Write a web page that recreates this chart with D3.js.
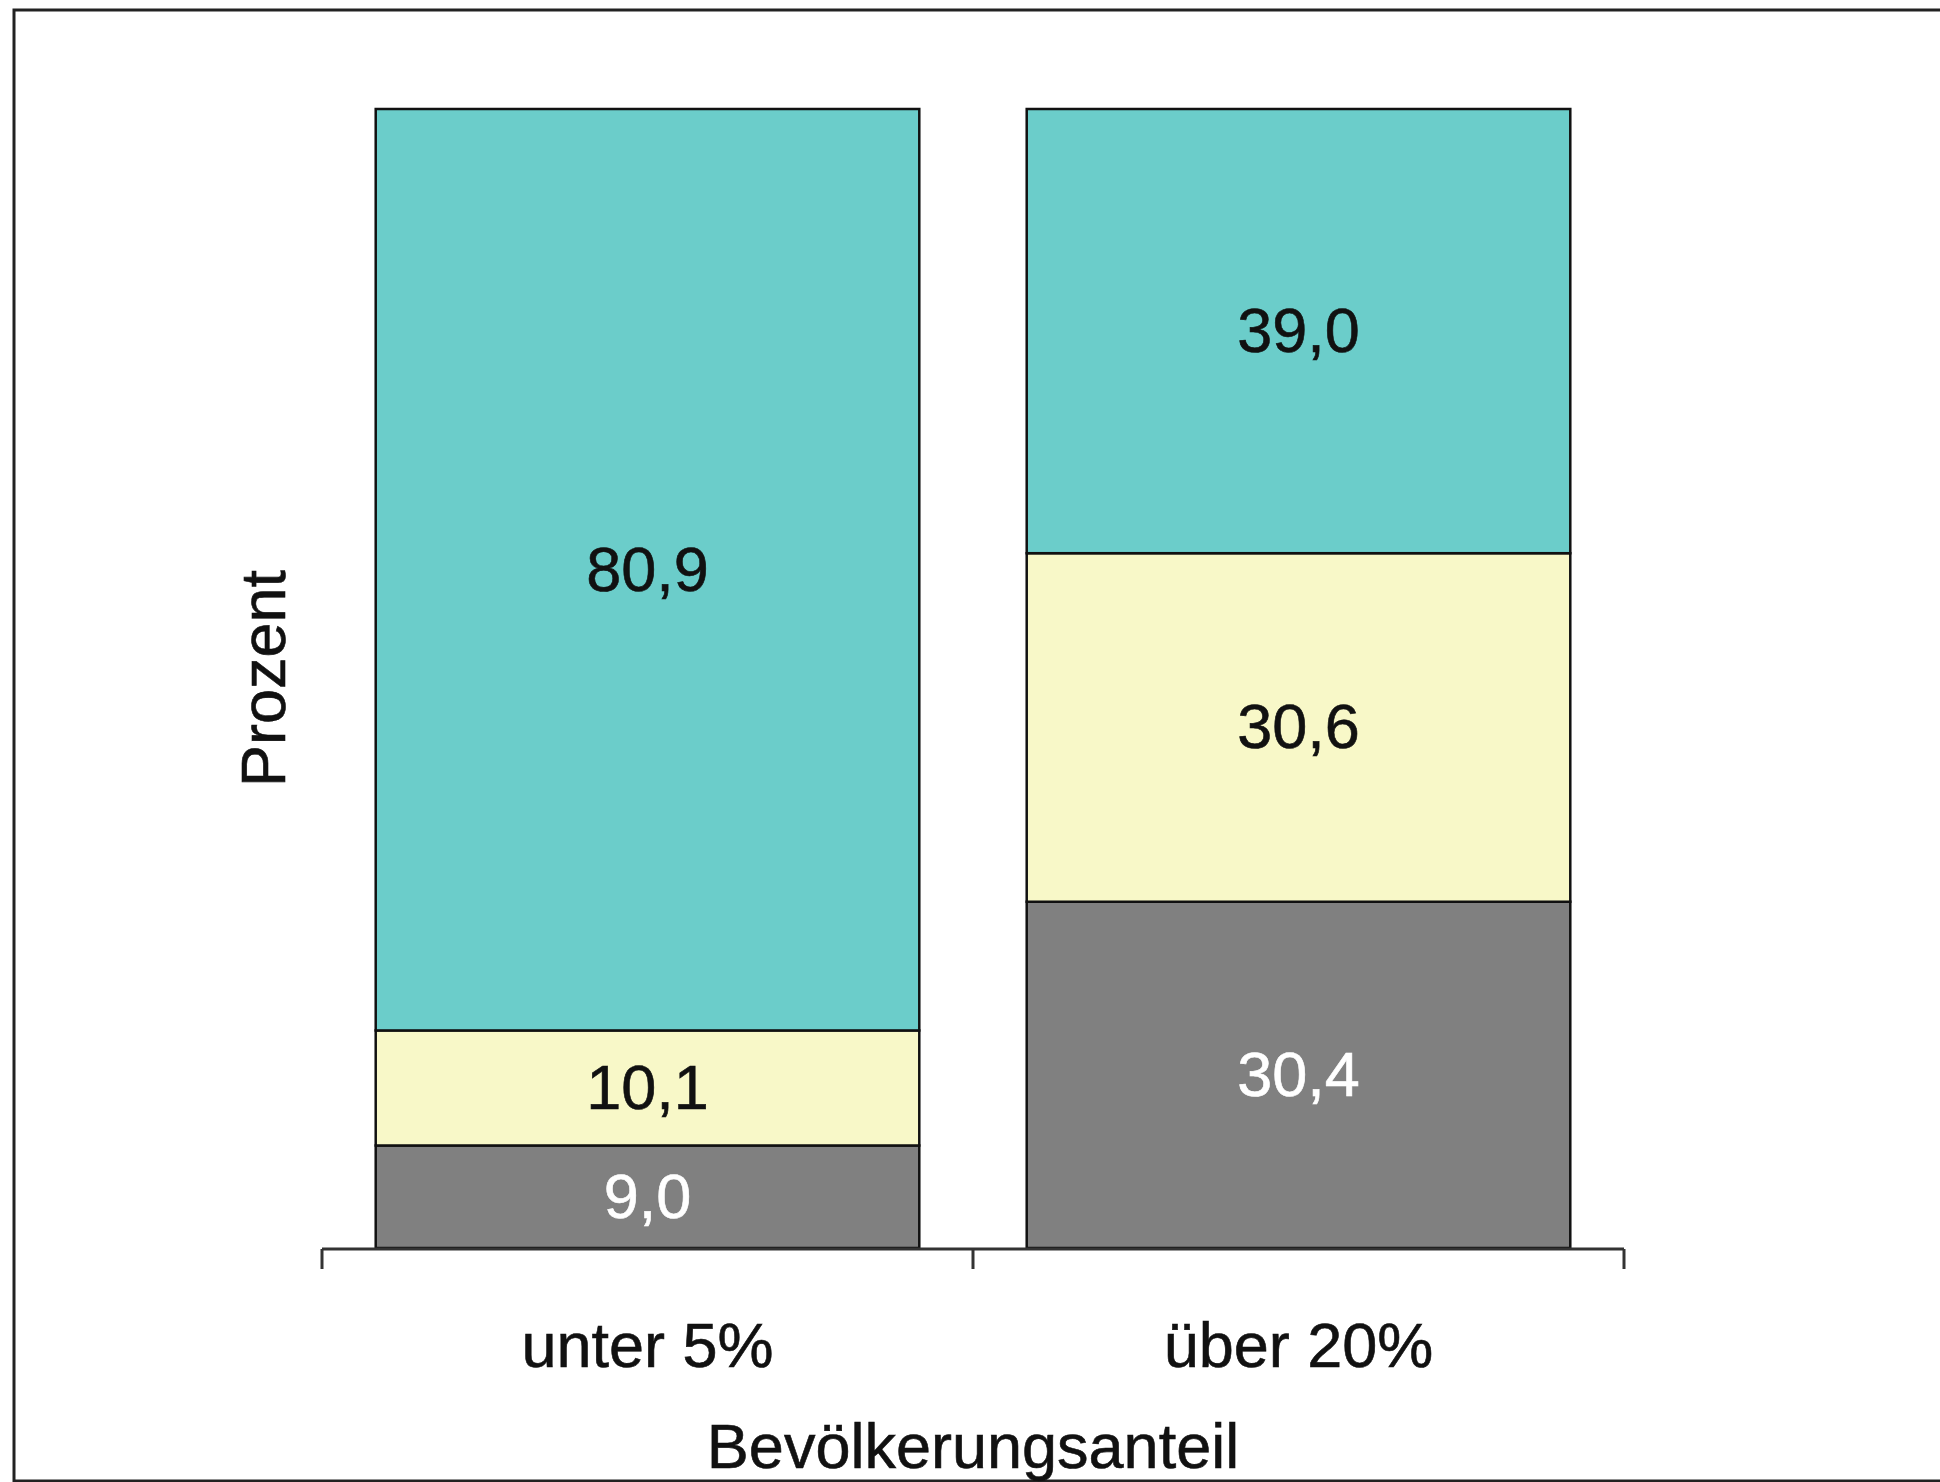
<!DOCTYPE html>
<html>
<head>
<meta charset="utf-8">
<script src="https://cdn.jsdelivr.net/npm/d3@7/dist/d3.min.js"></script>
<style>
  html, body { margin: 0; padding: 0; background: #fff; }
  svg { display: block; }
</style>
</head>
<body>
<div id="chart"></div>
<script>
// Daten
const categories = ["unter 5%", "über 20%"];
const seriesNames = ["grau", "gelb", "tuerkis"];
const grauValues = [9.0, 30.4];
const gelbValues = [10.1, 30.6];
const tuerkisValues = [80.9, 39.0];
const seriesColors = ["#808080", "#f8f8c8", "#6bcdca"];
const labelColors = ["#ffffff", "#111111", "#111111"];

const width = 1940, height = 1482;
const margin = { top: 109, right: 316, bottom: 235, left: 322 };

const svg = d3.select("#chart")
  .append("svg")
  .attr("width", width)
  .attr("height", height);

const fontFamily = "'Liberation Sans', Arial, Helvetica, sans-serif";

// Rahmen
svg.append("path")
  .attr("d", "M1941,10 H14 V1481 H1941")
  .attr("fill", "none")
  .attr("stroke", "#222")
  .style("stroke-width", "3px");

const x = d3.scaleBand()
  .domain(categories)
  .range([margin.left, width - margin.right])
  .padding(0);

const y = d3.scaleLinear()
  .domain([0, 100])
  .range([height - margin.bottom + 1, margin.top]);

const barWidth = x.bandwidth() * 0.835;

// Tabelle für den Stack
const table = categories.map(function (c, i) {
  return { cat: c, grau: grauValues[i], gelb: gelbValues[i], tuerkis: tuerkisValues[i] };
});
const stacked = d3.stack().keys(seriesNames)(table);

const groups = svg.selectAll("g.layer")
  .data(stacked)
  .enter()
  .append("g")
  .attr("class", "layer");

groups.each(function (layer, li) {
  d3.select(this).selectAll("rect")
    .data(layer)
    .enter()
    .append("rect")
    .attr("x", function (d) { return x(d.data.cat) + (x.bandwidth() - barWidth) / 2; })
    .attr("y", function (d) { return y(d[1]); })
    .attr("width", barWidth)
    .attr("height", function (d) { return y(d[0]) - y(d[1]); })
    .attr("fill", seriesColors[li])
    .attr("stroke", "#111")
    .style("stroke-width", "2.5px");
});

// Werte in den Segmenten
groups.each(function (layer, li) {
  d3.select(this).selectAll("text")
    .data(layer)
    .enter()
    .append("text")
    .attr("x", function (d) { return x(d.data.cat) + x.bandwidth() / 2; })
    .attr("y", function (d) { return (y(d[0]) + y(d[1])) / 2 + 21; })
    .attr("text-anchor", "middle")
    .attr("font-family", fontFamily)
    .attr("font-size", "63px")
    .attr("fill", labelColors[li])
    .attr("stroke", labelColors[li])
    .style("stroke-width", "0.6px")
    .text(function (d) { return d3.format(".1f")(d[1] - d[0]).replace(".", ","); });
});

// x-Achse mit Ticks an den Grenzen
const axisY = y(0) + 1;
const tickVals = [x.range()[0]].concat(categories.map(function (c) { return x(c) + x.bandwidth(); }));
svg.append("line")
  .attr("x1", x.range()[0])
  .attr("x2", x.range()[1])
  .attr("y1", axisY)
  .attr("y2", axisY)
  .attr("stroke", "#333")
  .style("stroke-width", "3px");

svg.selectAll("line.tick")
  .data(tickVals)
  .enter()
  .append("line")
  .attr("class", "tick")
  .attr("x1", function (d) { return d; })
  .attr("x2", function (d) { return d; })
  .attr("y1", axisY)
  .attr("y2", axisY + 20)
  .attr("stroke", "#333")
  .style("stroke-width", "3px");

svg.selectAll("text.cat")
  .data(categories)
  .enter()
  .append("text")
  .attr("class", "cat")
  .attr("x", function (d) { return x(d) + x.bandwidth() / 2; })
  .attr("y", 1367)
  .attr("text-anchor", "middle")
  .attr("font-family", fontFamily)
  .attr("font-size", "63px")
  .attr("fill", "#111")
  .attr("stroke", "#111")
  .style("stroke-width", "0.6px")
  .text(function (d) { return d; });

// Achsentitel
svg.append("text")
  .attr("x", (x.range()[0] + x.range()[1]) / 2)
  .attr("y", 1468)
  .attr("text-anchor", "middle")
  .attr("font-family", fontFamily)
  .attr("font-size", "63px")
  .attr("fill", "#111")
  .attr("stroke", "#111")
  .style("stroke-width", "0.6px")
  .text("Bevölkerungsanteil");

svg.append("text")
  .attr("transform", "translate(285," + ((y(0) + y(100)) / 2) + ") rotate(-90)")
  .attr("text-anchor", "middle")
  .attr("font-family", fontFamily)
  .attr("font-size", "63px")
  .attr("fill", "#111")
  .attr("stroke", "#111")
  .style("stroke-width", "0.6px")
  .text("Prozent");
</script>
</body>
</html>
